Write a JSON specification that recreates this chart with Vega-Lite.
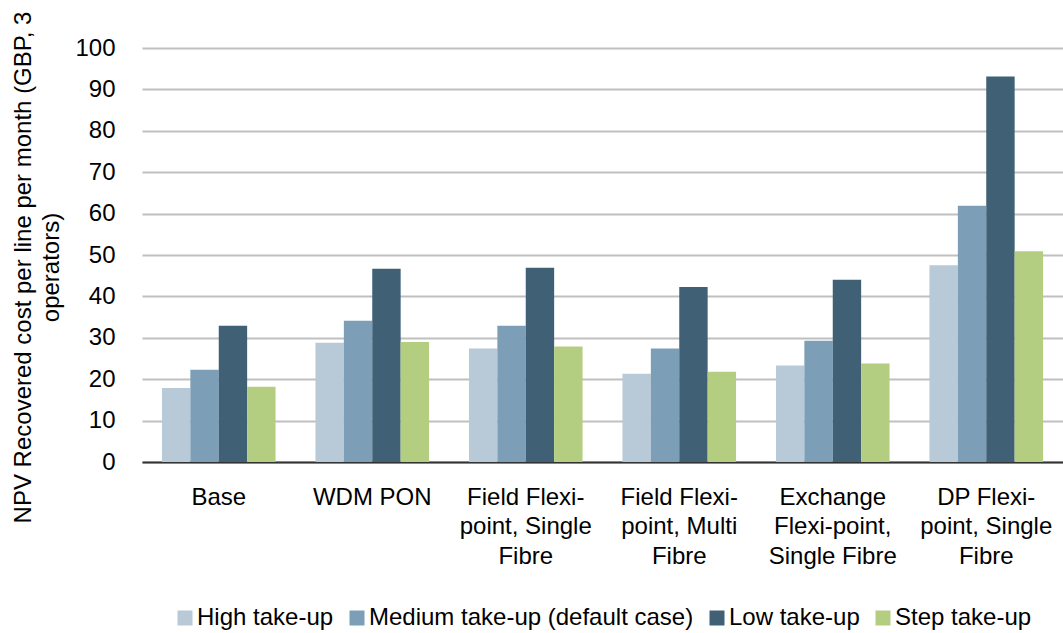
{
  "$schema": "https://vega.github.io/schema/vega-lite/v6.json",
  "width": 921,
  "height": 414,
  "autosize": {"type": "none"},
  "padding": {"left": 142, "top": 48, "right": 0, "bottom": 171},
  "background": "white",
  "config": {
    "font": "Liberation Sans",
    "view": {"stroke": null},
    "axis": {"labelFont": "Liberation Sans", "titleFont": "Liberation Sans", "labelColor": "#000000", "titleColor": "#000000"},
    "legend": {"labelFont": "Liberation Sans", "labelColor": "#000000"}
  },
  "data": {
    "values": [
      {"option": "Base", "scenario": "High take-up", "cost": 17.9},
      {"option": "Base", "scenario": "Medium take-up (default case)", "cost": 22.3},
      {"option": "Base", "scenario": "Low take-up", "cost": 32.9},
      {"option": "Base", "scenario": "Step take-up", "cost": 18.2},
      {"option": "WDM PON", "scenario": "High take-up", "cost": 28.8},
      {"option": "WDM PON", "scenario": "Medium take-up (default case)", "cost": 34.1},
      {"option": "WDM PON", "scenario": "Low take-up", "cost": 46.7},
      {"option": "WDM PON", "scenario": "Step take-up", "cost": 29.0},
      {"option": "Field Flexi-|point, Single|Fibre", "scenario": "High take-up", "cost": 27.4},
      {"option": "Field Flexi-|point, Single|Fibre", "scenario": "Medium take-up (default case)", "cost": 32.9},
      {"option": "Field Flexi-|point, Single|Fibre", "scenario": "Low take-up", "cost": 46.9},
      {"option": "Field Flexi-|point, Single|Fibre", "scenario": "Step take-up", "cost": 27.9},
      {"option": "Field Flexi-|point, Multi|Fibre", "scenario": "High take-up", "cost": 21.3},
      {"option": "Field Flexi-|point, Multi|Fibre", "scenario": "Medium take-up (default case)", "cost": 27.4},
      {"option": "Field Flexi-|point, Multi|Fibre", "scenario": "Low take-up", "cost": 42.3},
      {"option": "Field Flexi-|point, Multi|Fibre", "scenario": "Step take-up", "cost": 21.8},
      {"option": "Exchange|Flexi-point,|Single Fibre", "scenario": "High take-up", "cost": 23.3},
      {"option": "Exchange|Flexi-point,|Single Fibre", "scenario": "Medium take-up (default case)", "cost": 29.3},
      {"option": "Exchange|Flexi-point,|Single Fibre", "scenario": "Low take-up", "cost": 44.0},
      {"option": "Exchange|Flexi-point,|Single Fibre", "scenario": "Step take-up", "cost": 23.8},
      {"option": "DP Flexi-|point, Single|Fibre", "scenario": "High take-up", "cost": 47.5},
      {"option": "DP Flexi-|point, Single|Fibre", "scenario": "Medium take-up (default case)", "cost": 61.9},
      {"option": "DP Flexi-|point, Single|Fibre", "scenario": "Low take-up", "cost": 93.1},
      {"option": "DP Flexi-|point, Single|Fibre", "scenario": "Step take-up", "cost": 50.9}
    ]
  },
  "mark": {"type": "bar"},
  "encoding": {
    "x": {
      "field": "option",
      "type": "nominal",
      "sort": null,
      "scale": {"paddingInner": 0.26, "paddingOuter": 0.13},
      "axis": {
        "title": null,
        "labelExpr": "split(datum.label, '|')",
        "labelAngle": 0,
        "labelFontSize": 24,
        "labelLineHeight": 29.5,
        "labelPadding": 23,
        "labelBaseline": "top",
        "labelLimit": 300,
        "ticks": false,
        "domainColor": "#333333",
        "domainWidth": 2,
        "grid": false
      }
    },
    "xOffset": {
      "field": "scenario",
      "type": "nominal",
      "sort": ["High take-up", "Medium take-up (default case)", "Low take-up", "Step take-up"],
      "scale": {"paddingInner": 0, "paddingOuter": 0}
    },
    "y": {
      "field": "cost",
      "type": "quantitative",
      "scale": {"domain": [0, 100], "nice": false},
      "axis": {
        "title": ["NPV Recovered cost per line per month (GBP, 3", "operators)"],
        "titleFontSize": 24,
        "titleFontWeight": "normal",
        "titleLineHeight": 28,
        "titleX": -107,
        "titleY": 219,
        "titleAngle": -90,
        "titleAlign": "center",
        "titleBaseline": "bottom",
        "values": [0, 10, 20, 30, 40, 50, 60, 70, 80, 90, 100],
        "labelFontSize": 24,
        "labelPadding": 27,
        "ticks": false,
        "domain": false,
        "grid": true,
        "gridColor": "#C0C0C0",
        "gridWidth": 2
      }
    },
    "color": {
      "field": "scenario",
      "type": "nominal",
      "sort": ["High take-up", "Medium take-up (default case)", "Low take-up", "Step take-up"],
      "scale": {
        "domain": ["High take-up", "Medium take-up (default case)", "Low take-up", "Step take-up"],
        "range": ["#B8C9D7", "#7C9FB7", "#3F6075", "#B3CE80"]
      },
      "legend": {
        "title": null,
        "orient": "none",
        "direction": "horizontal",
        "legendX": 31,
        "legendY": 558,
        "symbolType": "square",
        "symbolSize": 225,
        "symbolStrokeWidth": 0,
        "labelFontSize": 24,
        "labelOffset": 0,
        "columnPadding": 11,
        "labelLimit": 500
      }
    }
  }
}
